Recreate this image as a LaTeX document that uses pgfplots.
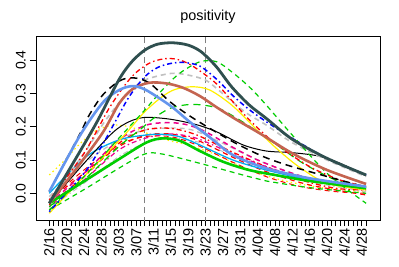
\documentclass[border=0pt]{standalone}
\usepackage{pgfplots}
\pgfplotsset{compat=1.18}
\usepackage{fontspec}
\setmainfont{Liberation Sans}
\definecolor{dsg}{RGB}{47,79,79}
\definecolor{cfb}{RGB}{100,149,237}
\definecolor{brn}{RGB}{196,100,80}
\definecolor{lgr}{RGB}{192,192,192}
\definecolor{grn}{RGB}{0,205,0}
\definecolor{yel}{RGB}{255,240,0}
\definecolor{vgr}{RGB}{128,128,128}
\tikzset{
  rdash/.style={dash pattern=on 5pt off 4pt},
  rlong/.style={dash pattern=on 7pt off 5pt},
  rdd/.style={dash pattern=on 1.5pt off 3pt on 5pt off 3pt},
  rdot/.style={dash pattern=on 1.5pt off 3pt},
}
\begin{document}
\begin{tikzpicture}[x=1pt,y=1pt]
\begin{axis}[
  scale only axis, width=344pt, height=184pt,
  xmin=-3.06, xmax=76.2, ymin=-0.0802, ymax=0.4724,
  axis line style={line width=0.8pt},
  xtick={0,4,...,72},
  xticklabels={2/16,2/20,2/24,2/28,3/03,3/07,3/11,3/15,3/19,3/23,3/27,3/31,4/04,4/08,4/12,4/16,4/20,4/24,4/28},
  minor xtick={0,1,...,73},
  ytick={0,0.1,0.2,0.3,0.4},
  yticklabels={0.0,0.1,0.2,0.3,0.4},
  tick align=outside, tick pos=left,
  major tick length=6pt, minor tick length=6pt,
  tick style={black, line width=0.7pt},
  xticklabel style={rotate=90, anchor=east, inner sep=0pt, font=\fontsize{14.5}{14.5}\selectfont},
  yticklabel style={rotate=90, anchor=south, inner sep=0pt, font=\fontsize{14}{14}\selectfont},
  xticklabel shift=2pt, yticklabel shift=4pt,
  /pgf/number format/assume math mode=true,
  title={positivity},
  title style={at={(0.5,1)}, anchor=base, yshift=9pt, font=\fontsize{14.4}{14.4}\selectfont},
  clip=true,
  every axis plot/.append style={line width=1pt, smooth, tension=0.5, no markers},
]
% vertical reference lines
\addplot[vgr, line width=1.1pt, dash pattern=on 6pt off 4pt, sharp plot] coordinates {(22,-0.09) (22,0.48)};
\addplot[vgr, line width=1.1pt, dash pattern=on 6pt off 4pt, sharp plot] coordinates {(36,-0.09) (36,0.48)};
% lower group
\addplot[yel, rdot, line width=1.2pt] coordinates {(0,0.055) (3.6,0.1) (7,0.148) (11,0.19) (15,0.205) (19,0.198) (23,0.178) (28,0.157) (32,0.145) (38.6,0.115) (46,0.07) (55,0.035) (64,0.015) (73,0.005)};
\addplot[lgr, rdd] coordinates {(0,-0.045) (8,0.03) (16,0.11) (22,0.15) (28,0.165) (34,0.155) (42,0.115) (50,0.075) (60,0.035) (73,0.005)};
\addplot[red, rdash] coordinates {(0,-0.02) (8,0.07) (16,0.145) (22,0.17) (28,0.17) (34,0.145) (42,0.095) (50,0.05) (58,0.02) (66,0.005) (73,0.0)};
\addplot[lgr, rdash, line width=1.3pt] coordinates {(0,-0.01) (8,0.09) (16,0.16) (22,0.19) (28,0.196) (33,0.19) (40,0.15) (48,0.1) (56,0.06) (64,0.03) (73,0.01)};
\addplot[red, rdd, line width=1.3pt] coordinates {(0,-0.035) (8,0.05) (16,0.15) (22,0.19) (28,0.195) (34,0.175) (42,0.125) (50,0.08) (58,0.04) (66,0.015) (73,0.01)};
\addplot[red, rdash, line width=1.2pt] coordinates {(0,-0.02) (8,0.06) (16,0.14) (22.4,0.175) (28,0.178) (34,0.16) (42,0.11) (50,0.065) (60,0.025) (73,-0.005)};
\addplot[magenta, rdd, line width=1.2pt] coordinates {(0,-0.04) (8,0.04) (16,0.13) (22,0.165) (28,0.178) (34,0.165) (42,0.12) (50,0.08) (60,0.04) (73,0.012)};
\addplot[magenta, rdash, line width=1.5pt] coordinates {(0,-0.03) (8,0.06) (16,0.16) (22.4,0.205) (28,0.212) (32,0.205) (36,0.185) (42,0.14) (48,0.1) (56,0.06) (64,0.03) (73,0.01)};
\addplot[grn, rdash, line width=1.2pt] coordinates {(0,-0.05) (8.5,0.015) (16,0.075) (22,0.118) (26,0.118) (34.7,0.09) (46,0.05) (50,0.037) (60,0.017) (73,0.0)};
\addplot[cyan, line width=1.3pt] coordinates {(0,0.0) (8.5,0.11) (16,0.16) (22.3,0.175) (26,0.177) (30,0.17) (34.7,0.145) (42.3,0.1) (50,0.07) (60,0.04) (73,0.015)};
% middle / upper group
\addplot[black] coordinates {(0,-0.03) (8,0.09) (14.6,0.182) (18.4,0.215) (22,0.228) (27,0.224) (31,0.215) (35,0.202) (39,0.182) (44.7,0.145) (50,0.127) (56,0.122) (62,0.112) (67,0.09) (73,0.052)};
\addplot[grn, rlong, line width=1.2pt] coordinates {(0,-0.04) (8,0.04) (16,0.14) (21,0.192) (24,0.225) (28,0.256) (33,0.267) (38.6,0.257) (43,0.227) (48,0.185) (53,0.14) (58.5,0.09) (66,0.04) (73,0.02)};
\addplot[yel, line width=1.2pt] coordinates {(0,-0.06) (8,0.05) (14,0.13) (18,0.185) (22,0.245) (26,0.29) (29,0.312) (33,0.32) (37,0.31) (42.3,0.262) (48.5,0.182) (53.2,0.125) (57.8,0.077) (64,0.03) (73,0.01)};
\addplot[lgr, rdash, line width=1.6pt] coordinates {(0,-0.02) (8,0.12) (13,0.22) (18,0.3) (22,0.34) (28,0.36) (32,0.355) (36,0.34) (39,0.31) (45,0.245) (50,0.205) (56,0.152) (64,0.1) (73,0.05)};
\addplot[grn, rdash, line width=1.2pt] coordinates {(0,-0.05) (8,0.05) (16,0.165) (22,0.25) (26,0.31) (30,0.36) (34.7,0.395) (38.6,0.395) (42.3,0.362) (46.2,0.318) (50,0.265) (55.5,0.182) (64,0.06) (73,-0.03)};
\addplot[red, rdd, line width=1.3pt] coordinates {(0,-0.02) (8,0.12) (14,0.26) (19,0.35) (23.4,0.393) (27.8,0.405) (32,0.39) (38,0.335) (42.3,0.275) (46,0.222) (52,0.15) (60,0.08) (67,0.04) (73,0.02)};
\addplot[blue, rdd, line width=1.5pt] coordinates {(0,-0.055) (8,0.06) (12,0.14) (15.4,0.22) (18.4,0.29) (22,0.35) (25,0.378) (28,0.39) (31,0.393) (34.7,0.382) (38.6,0.342) (42.4,0.292) (46.2,0.25) (50,0.215) (56,0.165) (64,0.105) (73,0.055)};
\addplot[black, rlong, line width=1.5pt] coordinates {(0,0.005) (7,0.177) (9.2,0.235) (12.3,0.295) (16.1,0.337) (19.2,0.347) (23,0.332) (27.8,0.275) (32.4,0.232) (37,0.195) (43,0.15) (49,0.112) (54,0.088) (60,0.065) (73,0.018)};
% thick lines
\addplot[grn, line width=2.6pt] coordinates {(0,-0.03) (8.5,0.04) (16,0.102) (22.3,0.152) (26,0.165) (30,0.158) (34.7,0.127) (40,0.095) (46,0.07) (52,0.055) (60,0.037) (73,0.015)};
\addplot[brn, line width=2.6pt] coordinates {(0,-0.03) (6,0.07) (12.3,0.182) (16.1,0.27) (19.2,0.313) (23,0.332) (27,0.33) (30.8,0.317) (34.7,0.292) (38.6,0.258) (43,0.222) (48.5,0.18) (56,0.12) (64,0.07) (73,0.028)};
\addplot[cfb, line width=2.6pt] coordinates {(0,0.005) (7,0.172) (12.3,0.272) (16.1,0.31) (19.2,0.322) (22.3,0.31) (28,0.262) (32.4,0.214) (37,0.168) (42.3,0.115) (50,0.075) (60,0.045) (73,0.02)};
\addplot[dsg, line width=2.8pt] coordinates {(0,-0.03) (5,0.08) (10.8,0.21) (16,0.34) (19,0.395) (22,0.43) (25,0.448) (28.5,0.452) (32,0.445) (35,0.425) (38.5,0.38) (42,0.32) (46,0.266) (50,0.225) (56,0.162) (64,0.105) (73,0.055)};
\end{axis}
\path (current axis.south west) ++(-36pt,-46pt) coordinate (A);
\path (current axis.north east) ++(19pt,36pt) coordinate (B);
\path[draw=none] (A) rectangle (B);
\end{tikzpicture}
\end{document}
